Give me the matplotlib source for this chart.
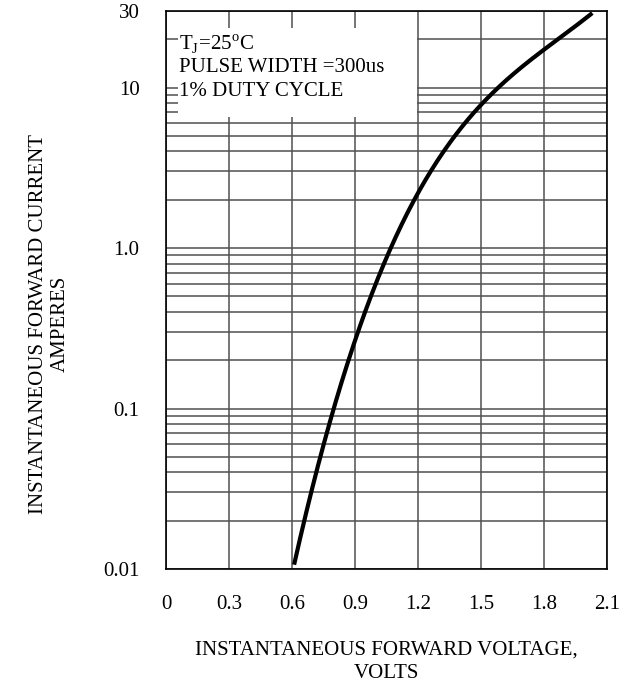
import numpy as np
import matplotlib
matplotlib.use('Agg')
import matplotlib.pyplot as plt
from matplotlib.patches import Rectangle

plt.rcParams['font.family'] = ['Liberation Serif', 'DejaVu Serif']
plt.rcParams['mathtext.fontset'] = 'custom'
plt.rcParams['mathtext.rm'] = 'Liberation Serif'

# forward voltage (V) vs forward current (A)
volts = [0.61, 0.652, 0.679, 0.716, 0.761, 0.791, 0.876, 0.907, 0.979, 1.087,
         1.224, 1.279, 1.339, 1.376, 1.415, 1.442, 1.488, 1.547, 1.832, 2.03]
amps = [0.0105, 0.02, 0.03, 0.05, 0.08, 0.1, 0.2, 0.3, 0.5, 1.0,
        2, 3, 4, 5, 6, 7, 8, 10, 20, 29]

xticks = [0, 0.3, 0.6, 0.9, 1.2, 1.5, 1.8, 2.1]
xticklabels = ['0', '0.3', '0.6', '0.9', '1.2', '1.5', '1.8', '2.1']
yticks = [0.01, 0.1, 1.0, 10, 30]
yticklabels = ['0.01', '0.1', '1.0', '10', '30']
notes = [r'T$_\mathrm{J}$=25$^\mathrm{o}$C', 'PULSE WIDTH =300us', '1% DUTY CYCLE']

# smooth the hand-read points (fit log I against V) so the line is not jagged
logi = np.log10(amps)
w = np.ones(len(volts))
w[0] = 6
w[-1] = 4
coef = np.polyfit(volts, logi, 3, w=w)
vs = np.linspace(volts[0], volts[-1], 300)
li = np.polyval(coef, vs)

fig = plt.figure(figsize=(6.36, 6.87), dpi=100)
ax = fig.add_axes([166/636, 1-569/687, 441/636, 558/687])

ax.set_yscale('log')
ax.set_xlim(0, 2.1)
ax.set_ylim(0.01, 30)

# grid
ax.set_xticks(xticks)
ax.set_xticklabels(xticklabels, fontsize=15)
ax.set_yticks(yticks)
ax.set_yticklabels(yticklabels, fontsize=15)
ax.tick_params(axis='both', which='both', length=0)
ax.tick_params(axis='x', pad=19)
ax.tick_params(axis='y', pad=19)
ax.grid(True, which='both', color='#505050', linewidth=1.1)

for s in ax.spines.values():
    s.set_color('black')
    s.set_linewidth(1.2)

# white box behind notes
ax.add_patch(Rectangle((0.027, 0.81), 0.542, 0.16, transform=ax.transAxes,
                       facecolor='white', edgecolor='none', zorder=2))
for i, t in enumerate(notes):
    ax.text(0.029, 0.941 - i*0.043, t, transform=ax.transAxes, fontsize=15,
            ha='left', va='center', zorder=3)

ax.plot(vs, 10**li, color='black', linewidth=3, zorder=4, solid_capstyle='butt')

fig.text(49.5/636, 1-324/687, 'INSTANTANEOUS FORWARD CURRENT\nAMPERES',
         rotation=90, ha='center', va='center', fontsize=15, multialignment='center')
fig.text(386/636, 1-662/687, 'INSTANTANEOUS FORWARD VOLTAGE,\nVOLTS',
         ha='center', va='center', fontsize=15, multialignment='center',
         linespacing=1.3)

fig.savefig('out.png', dpi=100)
